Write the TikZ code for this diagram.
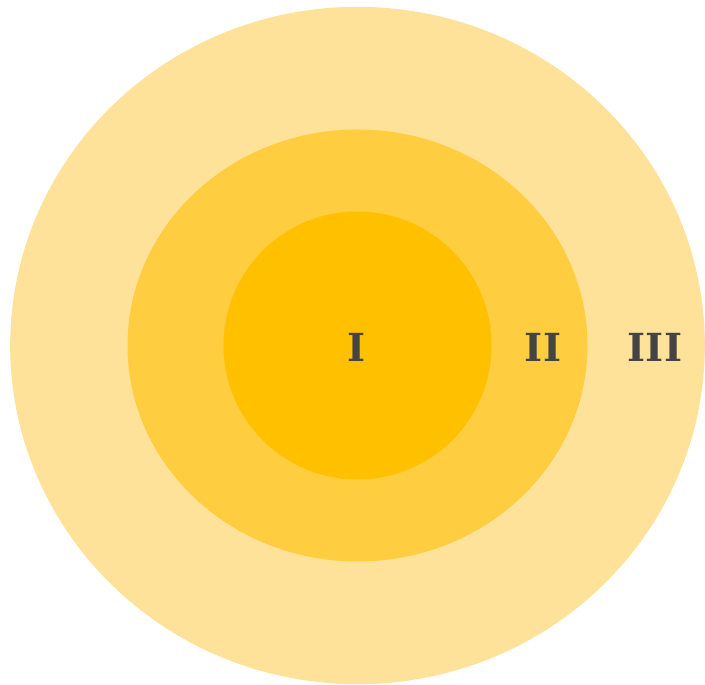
\documentclass[tikz,border=0pt]{standalone}
\usepackage{fontspec}
\newfontfamily\ringfont{DejaVu Serif}
\definecolor{ringOuter}{RGB}{255,226,153}
\definecolor{ringMiddle}{RGB}{255,205,64}
\definecolor{ringInner}{RGB}{255,192,0}
\definecolor{labelGray}{RGB}{68,68,68}
\usetikzlibrary{shapes.geometric,positioning}

\begin{document}
\begin{tikzpicture}[x=0.75pt,y=0.75pt,
    ring/.style={ellipse, inner sep=0pt, draw=none},
    ringlabel/.style={font=\ringfont\fontsize{29}{30}\selectfont\bfseries,
                      text=labelGray, inner sep=0pt}]
  \useasboundingbox (0,0) rectangle (705,684);
  \coordinate (c) at (357.5,338.5);
  % rings, largest first
  \node[ring, fill=ringOuter, minimum width=521pt, minimum height=508pt] (outer) at (c) {};
  \node[ring, fill=ringMiddle, minimum width=345pt, minimum height=324pt] (middle) at (c) {};
  \node[ring, fill=ringInner, minimum width=201pt, minimum height=201pt] (inner) at (c) {};
  % labels
  \node[ringlabel] (lblI) at (357,337) {I};
  \node[ringlabel] (lblII) at (543,337) {II};
  \node[ringlabel] (lblIII) at (655,337) {III};
\end{tikzpicture}
\end{document}
